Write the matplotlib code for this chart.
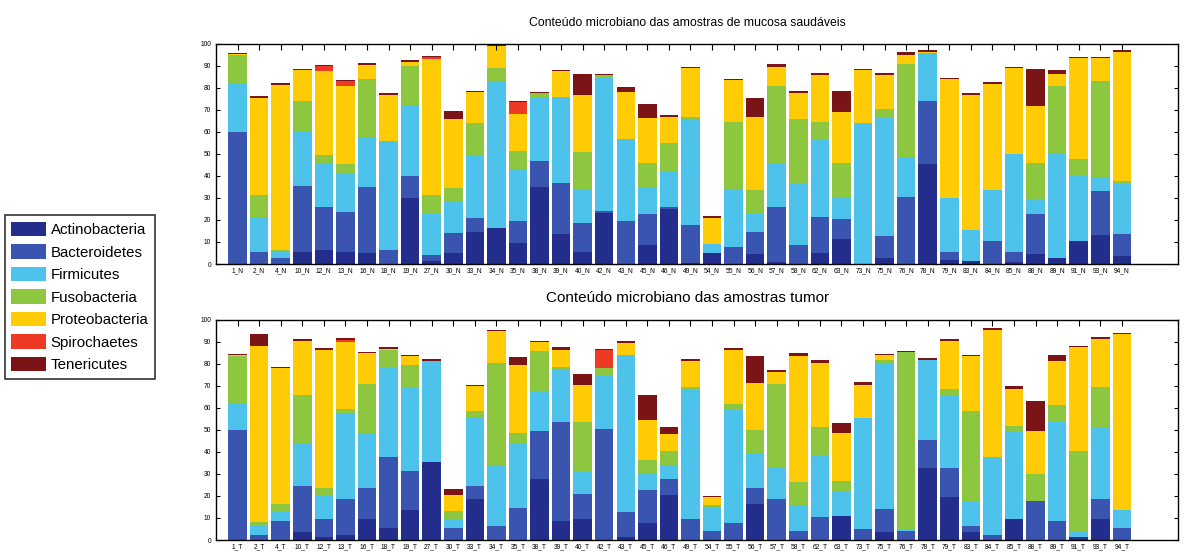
import numpy as np
import matplotlib.pyplot as plt
from matplotlib.patches import Patch

plt.rcParams['font.family'] = ['Liberation Sans', 'DejaVu Sans']

filos = ['Actinobacteria', 'Bacteroidetes', 'Firmicutes', 'Fusobacteria',
         'Proteobacteria', 'Spirochaetes', 'Tenericutes']
cores = ['#232d8c', '#3a55b0', '#4dc2ea', '#8dc63f', '#ffcb05', '#ee3a24', '#7b1416']

amostras = ['1', '2', '4', '10', '12', '13', '16', '18', '19', '27', '30', '33', '34', '35',
            '38', '39', '40', '42', '43', '45', '46', '49', '54', '55', '56', '57', '58', '62',
            '63', '73', '75', '76', '78', '79', '83', '84', '85', '88', '89', '91', '93', '94']

# abundancia relativa (%) por filo - mucosa saudavel (N)
normal = {
    'Actinobacteria': [0, 0, 0, 5.5, 6.5, 5.5, 5, 0, 30, 1.5, 5, 14.5, 16.5, 9.5,
                       35, 13.5, 5.5, 23, 0, 8.5, 25, 0.5, 5, 0, 4.5, 1, 0, 5,
                       11.5, 0, 2.5, 0, 45.5, 2, 1.5, 0, 1, 4.5, 2.5, 10.5, 13, 3.5],
    'Bacteroidetes': [60, 5.5, 2.5, 30, 19.5, 18, 30, 6.5, 10, 2.5, 9, 6.5, 0, 10,
                      12, 23.5, 13, 1, 19.5, 14, 1, 17, 0, 7.5, 10, 25, 8.5, 16.5,
                      9, 0, 10, 30.5, 28.5, 3.5, 0, 10.5, 4.5, 18, 0, 0, 20, 10],
    'Firmicutes': [22, 16, 3, 25, 20, 18, 22.5, 49.5, 32, 18.5, 14.5, 28, 66.5, 23,
                   29, 39, 15.5, 61, 37.5, 12, 16, 48.5, 4, 26, 8, 20, 28, 35,
                   10, 64, 54, 18, 22, 24.5, 14, 23, 44.5, 7, 47.5, 30, 6.5, 23],
    'Fusobacteria': [13, 10, 1, 13.5, 3.5, 4, 26.5, 0, 18, 9, 6, 15, 6, 9,
                     1.5, 0, 17, 0.7, 0, 11.5, 13, 1, 0, 31, 11, 35, 29.5, 8,
                     15.5, 0, 4, 42.5, 0, 0, 0, 0, 0, 16.5, 31, 7, 43.5, 1],
    'Proteobacteria': [0.5, 44, 75, 14, 38, 35.5, 6.5, 21, 2, 61.5, 31.5, 14, 10, 16.5,
                       0, 11.5, 26, 0, 21, 20.5, 12, 22, 12, 19, 33.5, 8.5, 11.5, 21.5,
                       23, 24, 15.5, 4, 0.5, 54, 61.5, 48.5, 39, 26, 5.5, 46, 10.5, 59],
    'Spirochaetes': [0, 0, 0, 0, 2.5, 2, 0, 0, 0, 1, 0, 0, 0, 5.5,
                     0, 0, 0, 0, 0, 0, 0, 0, 0, 0, 0, 0, 0, 0,
                     0, 0, 0, 0, 0, 0, 0, 0, 0, 0, 0, 0, 0, 0],
    'Tenericutes': [0.5, 0.7, 0.7, 0.6, 0.5, 0.5, 0.7, 0.6, 0.6, 0.5, 3.5, 0.6, 0.8, 0.5,
                    0.7, 0.6, 9.5, 0.7, 2.5, 6, 0.6, 0.6, 0.8, 0.6, 8.5, 1.3, 1.2, 0.6,
                    9.5, 0.6, 0.6, 1.2, 0.6, 0.6, 0.6, 0.6, 0.6, 16.5, 1.5, 0.6, 0.6, 0.6],
}

# abundancia relativa (%) por filo - tumor (T)
tumor = {
    'Actinobacteria': [0, 0, 0, 3.5, 1.5, 2.5, 9.5, 5.5, 13.5, 35.5, 0, 18.5, 0, 0,
                       27.5, 8.5, 9.5, 0, 1.5, 7.5, 20.5, 0, 0, 0, 16.5, 0, 0, 0,
                       11, 0, 3.5, 0, 32.5, 19.5, 3.5, 0, 9.5, 0, 0, 1.5, 9.5, 0],
    'Bacteroidetes': [50, 2.5, 8.5, 21, 8, 16, 14, 32, 18, 0, 5.5, 6, 6.5, 14.5,
                      22, 45, 11.5, 50.5, 11, 15, 7, 9.5, 4, 7.5, 7, 18.5, 4, 10.5,
                      0, 5, 10.5, 4, 13, 13, 3, 2.5, 0, 17.5, 8.5, 0, 9, 5.5],
    'Firmicutes': [12, 4, 4, 19, 11, 39, 25, 41, 38, 46, 4, 31, 27, 29,
                   18, 24, 10.5, 24, 71.5, 8, 6.5, 59, 11, 52, 16, 14, 11.5, 27.5,
                   11, 50.5, 66.5, 0.5, 36.5, 33, 11, 35, 40, 0, 45, 2.5, 33, 8],
    'Fusobacteria': [21.5, 1.5, 4, 22.5, 3, 2, 22.5, 8, 10, 0, 3.5, 3, 47, 5,
                     18.5, 1, 22, 3.5, 0, 6, 6.5, 1, 1, 2.5, 10.5, 38.5, 11, 13.5,
                     5, 0, 1.5, 81, 0, 3, 41, 0, 2.5, 12.5, 8, 36.5, 18, 0],
    'Proteobacteria': [0.5, 80, 61.5, 24.5, 63, 30.5, 14, 0.5, 4, 0, 7.5, 11.5, 14.5, 31,
                       4, 8, 17, 0, 5.5, 18, 7.5, 12, 3.5, 24.5, 21.5, 5.5, 57, 29,
                       21.5, 15, 2, 0, 0, 22, 25, 58, 16.5, 19.5, 20, 47, 22, 80],
    'Spirochaetes': [0, 0, 0, 0, 0, 1, 0, 0, 0, 0, 0, 0, 0, 0,
                     0, 0, 0, 8.5, 0, 0, 0, 0, 0, 0, 0, 0, 0, 0,
                     0, 0, 0, 0, 0, 0, 0, 0, 0, 0, 0, 0, 0, 0],
    'Tenericutes': [0.6, 5.5, 0.8, 0.8, 0.7, 0.6, 0.6, 0.6, 0.7, 0.7, 2.5, 0.6, 0.6, 3.5,
                    0.6, 1, 5, 0.5, 0.7, 11.5, 3.5, 0.6, 0.7, 0.7, 12, 0.7, 1.5, 1.5,
                    4.5, 1.5, 0.7, 0.6, 0.5, 0.7, 0.7, 0.7, 1.5, 13.5, 2.5, 0.7, 0.6, 0.6],
}

fig = plt.figure(figsize=(11.84, 5.53), dpi=100)
ax1 = fig.add_axes([0.1824, 0.5226, 0.8125, 0.398])
ax2 = fig.add_axes([0.1824, 0.0235, 0.8125, 0.398])

x = np.arange(1, len(amostras) + 1)


def empilha(ax, dados, sufixo, titulo, tam_titulo):
    base = np.zeros(len(amostras))
    for nome, cor in zip(filos, cores):
        v = np.array(dados[nome], dtype=float)
        ax.bar(x, v, bottom=base, width=0.86, color=cor, linewidth=0)
        base += v
    ax.set_xlim(0, 44.6)
    ax.set_ylim(0, 100)
    ax.set_xticks(x)
    ax.set_xticklabels([a + sufixo for a in amostras], fontsize=4.8)
    ax.set_yticks(np.arange(0, 101, 10))
    ax.tick_params(axis='y', labelsize=4.8, direction='in', right=True, length=3, width=0.8)
    ax.tick_params(axis='x', bottom=False, top=True, direction='in', length=4, width=0.8, pad=2)
    for s in ax.spines.values():
        s.set_linewidth(1)
    ax.set_title(titulo, fontsize=tam_titulo, pad=13, x=0.49)


empilha(ax1, normal, '_N', 'Conteúdo microbiano das amostras de mucosa saudáveis', 8.8)
empilha(ax2, tumor, '_T', 'Conteúdo microbiano das amostras tumor', 11)

handles = [Patch(facecolor=c, edgecolor='none') for c in cores]
leg = fig.legend(handles, filos, loc='upper left', bbox_to_anchor=(0.004, 0.611),
                 borderaxespad=0, fontsize=10.8, handlelength=2.3, handleheight=1.1,
                 labelspacing=0.48, handletextpad=0.3, fancybox=False, frameon=True,
                 borderpad=0.45)
leg.get_frame().set_edgecolor('black')
leg.get_frame().set_linewidth(1.2)

fig.savefig('out.png', dpi=100)
